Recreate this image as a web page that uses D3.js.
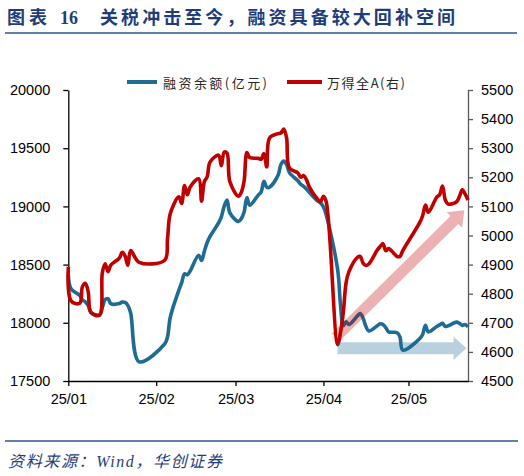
<!DOCTYPE html>
<html><head><meta charset="utf-8">
<script src="https://cdn.jsdelivr.net/npm/d3@7"></script>
<style>body{margin:0;background:#fff}svg{display:block}</style>
</head><body>
<script>
// ---- data ----
const tradeDates = [
"2025-01-02","2025-01-03","2025-01-06","2025-01-07","2025-01-08","2025-01-09","2025-01-10","2025-01-13","2025-01-14","2025-01-15","2025-01-16","2025-01-17","2025-01-20","2025-01-21","2025-01-22","2025-01-23","2025-01-24","2025-01-27",
"2025-02-05","2025-02-06","2025-02-07","2025-02-10","2025-02-11","2025-02-12","2025-02-13","2025-02-14","2025-02-17","2025-02-18","2025-02-19","2025-02-20","2025-02-21","2025-02-24","2025-02-25","2025-02-26","2025-02-27","2025-02-28",
"2025-03-03","2025-03-04","2025-03-05","2025-03-06","2025-03-07","2025-03-10","2025-03-11","2025-03-12","2025-03-13","2025-03-14","2025-03-17","2025-03-18","2025-03-19","2025-03-20","2025-03-21","2025-03-24","2025-03-25","2025-03-26","2025-03-27","2025-03-28","2025-03-31",
"2025-04-01","2025-04-02","2025-04-03","2025-04-07","2025-04-08","2025-04-09","2025-04-10","2025-04-11","2025-04-14","2025-04-15","2025-04-16","2025-04-17","2025-04-18","2025-04-21","2025-04-22","2025-04-23","2025-04-24","2025-04-25","2025-04-28","2025-04-29","2025-04-30",
"2025-05-06","2025-05-07","2025-05-08","2025-05-09","2025-05-12","2025-05-13","2025-05-14","2025-05-15","2025-05-16","2025-05-19","2025-05-20","2025-05-21","2025-05-22","2025-05-23"];

const marginBalance = [
18410,18290,18237,18196,18180,18150,18088,18068,18130,18200,18208,18165,18165,18178,18175,18150,18085,17665,
17818,17880,18050,18280,18345,18420,18412,18445,18580,18535,18615,18690,18742,18858,18910,19003,19055,18945,
18870,18893,18950,19075,19010,19097,19122,19215,19165,19165,19268,19360,19390,19360,19290,19220,19190,19172,19150,19122,19045,
19030,18995,18925,18460,18160,17975,18008,17985,18060,18080,18040,17968,17930,17975,17992,17985,17958,17922,17915,17878,17765,
17865,17900,17978,17922,17968,17982,17995,17968,17974,18006,17995,17978,17985,17965];

const windAllA = [
4892,4775,4767,4825,4836,4808,4736,4726,4872,4903,4876,4898,4922,4942,4930,4898,4948,4908,
4915,4988,5076,5133,5110,5172,5140,5167,5195,5118,5185,5202,5252,5276,5240,5287,5283,5185,
5135,5148,5186,5285,5268,5265,5262,5282,5236,5335,5350,5352,5366,5336,5232,5215,5200,5206,5192,5167,5124,
5116,5135,5115,4625,4665,4735,4838,4876,4925,4928,4905,4897,4902,4950,4962,4972,4948,4955,4928,4928,4948,
5045,5068,5105,5080,5132,5140,5170,5122,5108,5116,5135,5157,5142,5122];

const seriesNames = ["融资余额(亿元)", "万得全A(右)"];
const xTickDates = ["2025-01-02","2025-02-02","2025-03-02","2025-04-02","2025-05-02"];
const xTickLabels = ["25/01","25/02","25/03","25/04","25/05"];
const leftTicks = [17500,18000,18500,19000,19500,20000];
const rightTicks = [4500,4600,4700,4800,4900,5000,5100,5200,5300,5400,5500];
const blueArrow = [["2025-04-07 00",17782],["2025-05-22 12",17782]];
const pinkArrow = [["2025-04-06 07",4650],["2025-05-21 17",5087]];
const titleLead = "图表", titleNum = "16", titleText = "关税冲击至今，融资具备较大回补空间";
const sourceText = "资料来源：Wind，华创证券";

// ---- drawing ----
const W = 524, H = 476;
const M = {l: 68.3, r: 468, t: 90, b: 381};
const BLUE = "#1E6B94", RED = "#C00000", NAVY = "#1F3D7A";
const parse = d3.timeParse("%Y-%m-%d"), parseH = d3.timeParse("%Y-%m-%d %H");

const svg = d3.select("body").append("svg").attr("width", W).attr("height", H)
  .style("background", "#fff");

const x = d3.scaleTime().domain([parse("2025-01-02"), parse("2025-05-23")]).range([M.l, M.r]);
const yL = d3.scaleLinear().domain([17500, 20000]).range([M.b, M.t]);
const yR = d3.scaleLinear().domain([4500, 5500]).range([M.b, M.t]);

// Title
const tg = svg.append("g").attr("fill", NAVY).attr("font-weight", "bold")
  .attr("font-family", "'Liberation Serif','Noto Sans CJK SC',serif").attr("font-size", 18);
tg.append("text").attr("x", 7).attr("y", 23.5).attr("textLength", 40).attr("lengthAdjust", "spacing").text(titleLead);
tg.append("text").attr("x", 60).attr("y", 23.5).text(titleNum);
tg.append("text").attr("x", 100).attr("y", 23.5).attr("textLength", 355).attr("lengthAdjust", "spacing").text(titleText);
svg.append("line").attr("x1", 5).attr("x2", 517).attr("y1", 33).attr("y2", 33)
  .attr("stroke", "#2F5597").attr("stroke-width", 1.6);

// Footer
svg.append("line").attr("x1", 5).attr("x2", 518).attr("y1", 441).attr("y2", 441)
  .attr("stroke", "#2F5597").attr("stroke-width", 1.6);
svg.append("text").attr("x", 8).attr("y", 467).attr("fill", NAVY)
  .attr("font-family", "'Liberation Serif','Noto Sans CJK SC',serif").attr("font-style", "italic")
  .attr("font-size", 16).attr("textLength", 214).attr("lengthAdjust", "spacing").text(sourceText);

// Axes
const axFont = "'Liberation Sans',Arial,sans-serif";
function styleAxis(g, color) {
  g.select(".domain").attr("stroke", color).attr("stroke-width", 1.3);
  g.selectAll(".tick line").attr("stroke", color).attr("stroke-width", 1.3);
  g.selectAll(".tick text").attr("fill", "#000").attr("font-family", axFont).attr("font-size", 14.5);
}
const gL = svg.append("g").attr("transform", `translate(${M.l},0)`)
  .call(d3.axisLeft(yL).tickValues(leftTicks).tickFormat(d3.format("d")).tickSize(5).tickSizeOuter(0).tickPadding(13));
styleAxis(gL, "#000");
const gR = svg.append("g").attr("transform", `translate(${M.r},0)`)
  .call(d3.axisRight(yR).tickValues(rightTicks).tickFormat(d3.format("d")).tickSize(5).tickSizeOuter(0).tickPadding(8));
styleAxis(gR, "#595959");
const gB = svg.append("g").attr("transform", `translate(0,${M.b})`)
  .call(d3.axisBottom(x).tickValues(xTickDates.map(parse))
    .tickFormat((d, i) => xTickLabels[i]).tickSize(5).tickSizeOuter(0).tickPadding(8));
styleAxis(gB, "#000");

// Lines
const dates = tradeDates.map(parse);
const curve = d3.curveCatmullRom.alpha(0.5);
const lineL = d3.line().x((d, i) => x(dates[i])).y(d => yL(d)).curve(curve);
const lineR = d3.line().x((d, i) => x(dates[i])).y(d => yR(d)).curve(curve);
svg.append("path").attr("d", lineL(marginBalance)).attr("fill", "none")
  .attr("stroke", BLUE).attr("stroke-width", 3.6).attr("stroke-linejoin", "round");
svg.append("path").attr("d", lineR(windAllA)).attr("fill", "none")
  .attr("stroke", RED).attr("stroke-width", 3.6).attr("stroke-linejoin", "round");

// Arrows
function arrowPts(p1, p2, sw, hw, hl) {
  const dx = p2[0] - p1[0], dy = p2[1] - p1[1], L = Math.hypot(dx, dy);
  const ux = dx / L, uy = dy / L, nx = -uy, ny = ux;
  const bx = p2[0] - ux * hl, by = p2[1] - uy * hl;
  return [[p1[0] + nx * sw / 2, p1[1] + ny * sw / 2], [bx + nx * sw / 2, by + ny * sw / 2],
          [bx + nx * hw / 2, by + ny * hw / 2], p2, [bx - nx * hw / 2, by - ny * hw / 2],
          [bx - nx * sw / 2, by - ny * sw / 2], [p1[0] - nx * sw / 2, p1[1] - ny * sw / 2]];
}
const bp = blueArrow.map(d => [x(parseH(d[0])), yL(d[1])]);
svg.append("polygon").attr("points", arrowPts(bp[0], bp[1], 12, 23, 13).map(p => p.join(",")).join(" "))
  .attr("fill", "rgba(30,107,148,0.31)");
const pp = pinkArrow.map(d => [x(parseH(d[0])), yR(d[1])]);
svg.append("polygon").attr("points", arrowPts(pp[0], pp[1], 11, 22, 14).map(p => p.join(",")).join(" "))
  .attr("fill", "rgba(192,0,0,0.30)");

// Legend
const lg = svg.append("g").attr("font-family", "'Noto Sans CJK SC',sans-serif").attr("font-size", 13).attr("fill", "#262626");
lg.append("line").attr("x1", 127).attr("x2", 157).attr("y1", 82).attr("y2", 82).attr("stroke", BLUE).attr("stroke-width", 4);
lg.append("text").attr("x", 163).attr("y", 87.5).attr("textLength", 104).attr("lengthAdjust", "spacing").text(seriesNames[0]);
lg.append("line").attr("x1", 287).attr("x2", 322).attr("y1", 82).attr("y2", 82).attr("stroke", RED).attr("stroke-width", 4);
lg.append("text").attr("x", 327).attr("y", 87.5).attr("textLength", 78).attr("lengthAdjust", "spacing").text(seriesNames[1]);
</script>
</body></html>
